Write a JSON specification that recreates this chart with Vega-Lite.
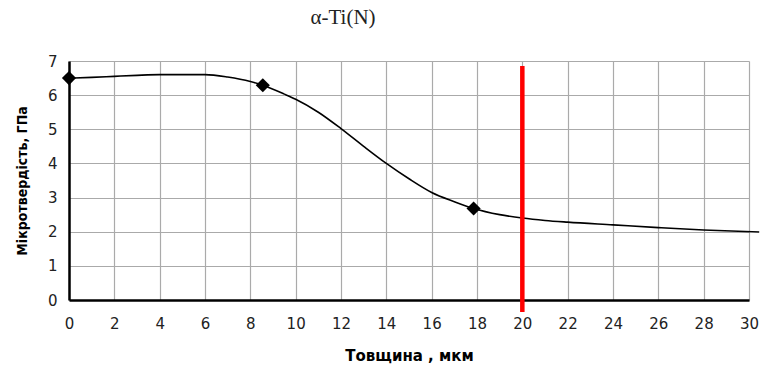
{
  "$schema": "https://vega.github.io/schema/vega-lite/v6.json",
  "width": 680,
  "height": 239,
  "autosize": {"type": "none"},
  "padding": {"left": 69, "top": 61, "right": 13, "bottom": 69},
  "background": "white",
  "title": {"text": "α-Ti(N)", "font": "Liberation Serif", "fontSize": 21, "fontWeight": "normal", "color": "#222", "anchor": "middle", "dx": -66, "offset": 26},
  "config": {"view": {"stroke": null}},
  "datasets": {
    "curve": [
      {"x": 0, "y": 6.5}, {"x": 1, "y": 6.52}, {"x": 2, "y": 6.55}, {"x": 3, "y": 6.58}, {"x": 4, "y": 6.6}, {"x": 5, "y": 6.6}, {"x": 6, "y": 6.6},
      {"x": 7, "y": 6.53}, {"x": 8, "y": 6.4}, {"x": 8.55, "y": 6.29}, {"x": 9.5, "y": 6.03}, {"x": 10, "y": 5.88}, {"x": 11, "y": 5.5},
      {"x": 12, "y": 5.02}, {"x": 13, "y": 4.5}, {"x": 14, "y": 4.0}, {"x": 15, "y": 3.55}, {"x": 16, "y": 3.15},
      {"x": 17, "y": 2.88}, {"x": 17.85, "y": 2.68}, {"x": 19, "y": 2.5}, {"x": 20, "y": 2.4}, {"x": 21, "y": 2.33},
      {"x": 22, "y": 2.28}, {"x": 24, "y": 2.2}, {"x": 26, "y": 2.12}, {"x": 28, "y": 2.05}, {"x": 30.45, "y": 1.99}
    ],
    "markers": [{"x": 0, "y": 6.5}, {"x": 8.55, "y": 6.29}, {"x": 17.85, "y": 2.68}],
    "redline": [{"x": 20, "y": 6.85, "y2": -0.35}]
  },
  "encoding": {
    "x": {"field": "x", "type": "quantitative", "scale": {"domain": [0, 30], "nice": false},
      "axis": {"title": "Товщина , мкм", "values": [0,2,4,6,8,10,12,14,16,18,20,22,24,26,28,30], "grid": true, "gridColor": "#aaaaaa", "gridWidth": 1.2,
        "domainColor": "black", "domainWidth": 2.5, "ticks": false, "labelPadding": 16, "labelFlush": false, "labelOverlap": false,
        "labelFont": "DejaVu Sans", "labelFontSize": 15, "labelColor": "#222",
        "titleFont": "DejaVu Sans", "titleFontSize": 15, "titleFontWeight": "bold", "titleColor": "black", "titlePadding": 17}},
    "y": {"field": "y", "type": "quantitative", "scale": {"domain": [0, 7], "nice": false},
      "axis": {"title": "Мікротвердість, ГПа", "values": [0,1,2,3,4,5,6,7], "grid": true, "gridColor": "#aaaaaa", "gridWidth": 1.2,
        "domainColor": "black", "domainWidth": 2.5, "ticks": false, "labelPadding": 12, "labelFlush": false, "labelOverlap": false,
        "labelFont": "DejaVu Sans", "labelFontSize": 15, "labelColor": "#222",
        "titleFont": "DejaVu Sans Condensed", "titleFontSize": 14, "titleFontWeight": "bold", "titleColor": "black", "titlePadding": 18}}
  },
  "layer": [
    {
      "data": {"name": "curve"},
      "mark": {"type": "line", "color": "black", "strokeWidth": 1.6, "interpolate": "monotone"}
    },
    {
      "data": {"name": "redline"},
      "mark": {"type": "rule", "color": "#ff0000", "strokeWidth": 4.5},
      "encoding": {
        "y2": {"field": "y2"}
      }
    },
    {
      "data": {"name": "markers"},
      "mark": {"type": "point", "shape": "diamond", "filled": true, "color": "black", "size": 200, "opacity": 1}
    }
  ]
}
